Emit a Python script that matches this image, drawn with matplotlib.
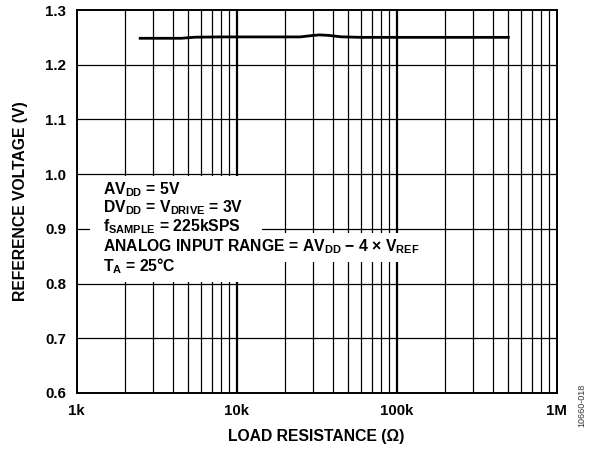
import matplotlib
matplotlib.use('Agg')
import matplotlib.pyplot as plt
from matplotlib.patches import Rectangle
import numpy as np

# load resistance (kOhm) and reference voltage (V)
res_kohm = [2.5, 4.5, 5.5, 8, 15, 25, 29, 33, 38, 45, 60, 100, 200, 500]
vref = [1.2483, 1.2483, 1.2503, 1.2508, 1.2508, 1.2508, 1.2530, 1.2545, 1.2535,
        1.2510, 1.2500, 1.2500, 1.2500, 1.2500]

xticks = [1e3, 1e4, 1e5, 1e6]
xticklabels = ['1k', '10k', '100k', '1M']
yticks = [0.6, 0.7, 0.8, 0.9, 1.0, 1.1, 1.2, 1.3]

notes = [r'AV$_{\mathregular{DD}}$ = 5V',
         r'DV$_{\mathregular{DD}}$ = V$_{\mathregular{DRIVE}}$ = 3V',
         r'f$_{\mathregular{SAMPLE}}$ = 225kSPS',
         r'ANALOG INPUT RANGE = AV$_{\mathregular{DD}}$ − 4 × V$_{\mathregular{REF}}$',
         r'T$_{\mathregular{A}}$ = 25°C']
note_baselines = [194, 212, 231, 251, 271]  # pixel rows

plt.rcParams['font.family'] = ['Liberation Sans', 'DejaVu Sans']
plt.rcParams['font.weight'] = 'bold'
plt.rcParams['mathtext.fontset'] = 'custom'
plt.rcParams['mathtext.rm'] = 'Liberation Sans:bold'
plt.rcParams['mathtext.it'] = 'Liberation Sans:bold'
plt.rcParams['mathtext.bf'] = 'Liberation Sans:bold'

W, H = 592, 450
fig = plt.figure(figsize=(W / 100, H / 100), dpi=100)
ax = fig.add_axes([76.5 / W, 1 - 393 / H, 480 / W, 383 / H])

ax.set_xscale('log')
ax.set_xlim(1e3, 1e6)
ax.set_ylim(0.6, 1.3)

# grid drawn by hand so decade lines can be heavier
for dec in [1e3, 1e4, 1e5]:
    for m in range(2, 10):
        ax.axvline(dec * m, color='black', lw=0.9, zorder=1)
for v in [1e4, 1e5]:
    ax.axvline(v, color='black', lw=1.6, zorder=1)
for y in yticks[1:-1]:
    ax.axhline(y, color='black', lw=0.9, zorder=1)

# white panels behind the conditions text (pixel boxes)
def px_box(x0, y0, x1, y1):
    return Rectangle((x0 / W, 1 - y1 / H), (x1 - x0) / W, (y1 - y0) / H,
                     transform=fig.transFigure, facecolor='white',
                     edgecolor='none', zorder=2)

ax.add_patch(px_box(90, 175.8, 262, 282.2))
ax.add_patch(px_box(262, 233, 434, 262))

ax.plot(np.array(res_kohm) * 1e3, vref, color='black', lw=2.0, zorder=3)

ax.set_xticks(xticks)
ax.set_xticklabels(xticklabels)
ax.xaxis.set_minor_locator(matplotlib.ticker.NullLocator())
ax.set_yticks(yticks)
ax.set_yticklabels(['{:.1f}'.format(y) for y in yticks])
ax.tick_params(axis='both', length=0, labelsize=10.8)
ax.tick_params(axis='x', pad=8)
ax.tick_params(axis='y', pad=7.5)
for sp in ax.spines.values():
    sp.set_linewidth(1.4)

ax.set_xlabel('LOAD RESISTANCE (Ω)', fontsize=11.3, fontweight='bold', labelpad=8)
ax.set_ylabel('REFERENCE VOLTAGE (V)', fontsize=11.3, fontweight='bold', labelpad=12)

for s, yb in zip(notes, note_baselines):
    fig.text(103 / W, 1 - yb / H, s, fontsize=11.3, fontweight='bold',
             va='baseline', ha='left', zorder=5)

fig.text(582 / W, 1 - 405 / H, '10660-018', rotation=90, fontsize=6.5,
         fontweight='normal', color='#333333', ha='center', va='center')

fig.savefig('out.png', dpi=100)
